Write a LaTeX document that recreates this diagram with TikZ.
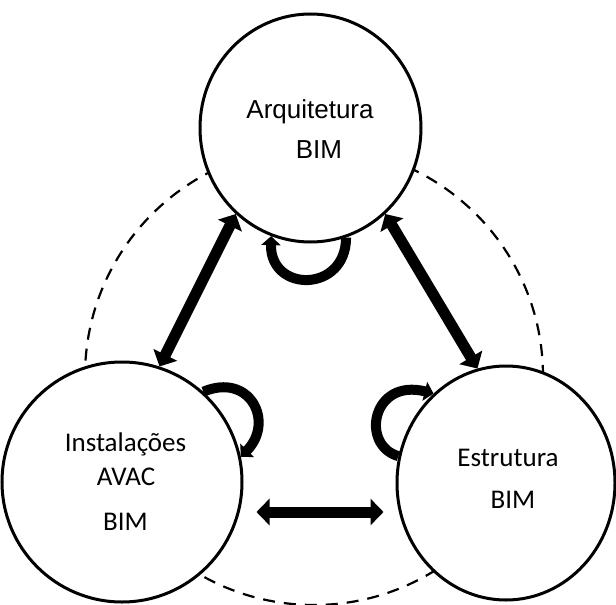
\documentclass[tikz,border=0pt]{standalone}
\usepackage{fontspec}
\usetikzlibrary{arrows.meta,shapes.geometric}
\newfontfamily\labelsans{Liberation Sans}
\newfontfamily\labelcal{Carlito}
\begin{document}
\begin{tikzpicture}[x=1pt,y=-1pt,
  hub/.style={ellipse, draw, line width=3pt, fill=white, inner sep=0pt},
  link/.style={line width=11pt, {Triangle[width=26pt,length=13pt]}-{Triangle[width=26pt,length=13pt]}},
  selfloop/.style={line width=10pt, -{Triangle[width=19pt,length=9pt]}},
  ring/.style={line width=2.2pt, dash pattern=on 12pt off 9pt},
  toptext/.style={font=\labelsans\fontsize{26}{30}\selectfont, anchor=base, inner sep=0pt},
  lowtext/.style={font=\labelcal\fontsize{27}{32}\selectfont, anchor=base, inner sep=0pt}]
  \fill[white] (0,0) rectangle (616,605);
  \useasboundingbox (0,0) rectangle (616,605);

  % dashed ring linking the three disciplines
  \draw[ring] (314,376) circle[radius=229];

  % the three discipline models
  \node[hub, minimum width=221pt, minimum height=228pt] (arq) at (310.5,128) {};
  \node[hub, minimum width=240pt, minimum height=240pt] (ins) at (122,482) {};
  \node[hub, minimum width=218pt, minimum height=234pt] (est) at (506,483) {};

  % exchanges between models
  \draw[link] (arq.229) -- (ins.72);
  \draw[link] (arq.311) -- (est.104);
  \draw[link, shorten <=13pt, shorten >=12pt] ([yshift=-30pt]ins.east) -- ([yshift=-29pt]est.west);

  % internal loops of each model
  \draw[selfloop] (arq.-72) .. controls (346,293) and (270,293) .. (arq.-110);
  \draw[selfloop] (ins.48) .. controls (250,372) and (275,422) .. (ins.12);
  \draw[selfloop] (est.166) .. controls (360,445) and (372,378) .. (est.129);

  % labels
  \node[toptext] (arqA) at (310,118) {Arquitetura};
  \node[toptext] (arqB) at (319,158) {BIM};
  \node[lowtext] (insA) at (125.5,451) {Instalações};
  \node[lowtext] (insB) at (126,485) {AVAC};
  \node[lowtext] (insC) at (125.5,530) {BIM};
  \node[lowtext] (estA) at (508,466) {Estrutura};
  \node[lowtext] (estB) at (513,508) {BIM};
\end{tikzpicture}
\end{document}
